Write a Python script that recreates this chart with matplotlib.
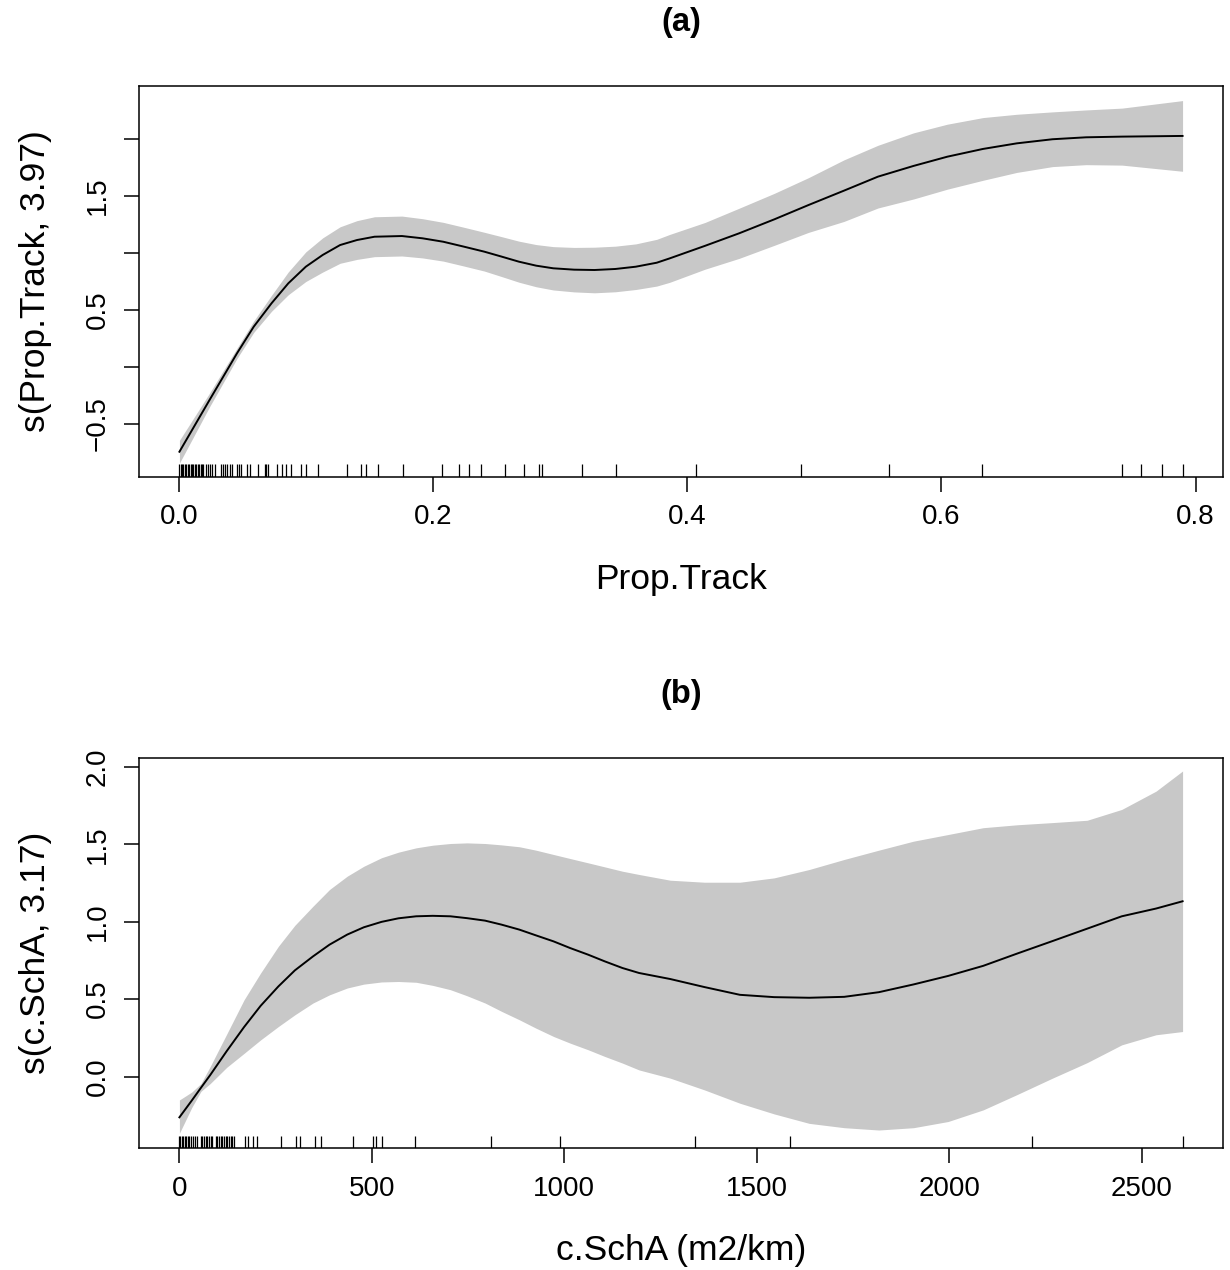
import matplotlib
matplotlib.use("Agg")
import matplotlib.pyplot as plt
import matplotlib.transforms as mtransforms
import numpy as np

plt.rcParams['font.family'] = ['Liberation Sans', 'DejaVu Sans']

# ---------------- Panel (a): s(Prop.Track, 3.97) ----------------
x_a = [0.000, 0.0237, 0.0453, 0.0585, 0.0725, 0.0857, 0.0995, 0.1128, 0.1265, 0.1398,
       0.1536, 0.1752, 0.1914, 0.2077, 0.2239, 0.2400, 0.2538, 0.2673, 0.2809, 0.2943,
       0.3107, 0.3268, 0.3432, 0.3593, 0.3758, 0.3860, 0.4138, 0.4407, 0.4685, 0.4953,
       0.5232, 0.5500, 0.5780, 0.6046, 0.6327, 0.6593, 0.6874, 0.7138, 0.7422, 0.7898]
fit_a = [-0.746, -0.292, 0.117, 0.351, 0.556, 0.731, 0.877, 0.980, 1.067, 1.111,
         1.140, 1.146, 1.126, 1.096, 1.053, 1.009, 0.965, 0.921, 0.886, 0.863,
         0.851, 0.848, 0.857, 0.877, 0.912, 0.950, 1.060, 1.170, 1.293, 1.418,
         1.544, 1.667, 1.761, 1.842, 1.910, 1.959, 1.995, 2.012, 2.018, 2.024]
hw_a = [0.10, 0.06, 0.045, 0.05, 0.07, 0.10, 0.13, 0.15, 0.16, 0.17,
        0.175, 0.175, 0.172, 0.17, 0.17, 0.17, 0.175, 0.18, 0.185, 0.19,
        0.195, 0.20, 0.20, 0.20, 0.205, 0.21, 0.205, 0.22, 0.228, 0.24,
        0.27, 0.275, 0.29, 0.285, 0.275, 0.255, 0.24, 0.24, 0.25, 0.31]
rug_a = [0.000, 0.0012, 0.002, 0.003, 0.0045, 0.0055, 0.0068, 0.0075, 0.0088, 0.0097,
         0.011, 0.0125, 0.0133, 0.0145, 0.0155, 0.0168, 0.0178, 0.0188, 0.0206, 0.0225,
         0.024, 0.0259, 0.0277, 0.0324, 0.0343, 0.0359, 0.0377, 0.0395, 0.0413, 0.045,
         0.0469, 0.0487, 0.0534, 0.0552, 0.0618, 0.0673, 0.068, 0.0697, 0.077, 0.0804,
         0.0841, 0.0875, 0.0959, 0.100, 0.109, 0.132, 0.143, 0.147, 0.156, 0.176,
         0.207, 0.220, 0.228, 0.2376, 0.2565, 0.2716, 0.283, 0.2857, 0.3167, 0.3434,
         0.407, 0.4895, 0.559, 0.632, 0.742, 0.757, 0.774, 0.7898]
xticks_a = [0.0, 0.2, 0.4, 0.6, 0.8]
xticklabels_a = ["0.0", "0.2", "0.4", "0.6", "0.8"]
yticks_a = [-0.5, 0.0, 0.5, 1.0, 1.5, 2.0]
yticklabels_a = ["\u22120.5", "", "0.5", "", "1.5", ""]
xlabel_a = "Prop.Track"
ylabel_a = "s(Prop.Track, 3.97)"
title_a = "(a)"

# ---------------- Panel (b): s(c.SchA, 3.17) ----------------
x_b = [0, 32, 56, 80, 123, 168, 211, 257, 300, 347, 390, 436, 479, 525, 569, 615,
       658, 704, 747, 794, 837, 883, 926, 972, 1015, 1062, 1105, 1151, 1194, 1275,
       1364, 1456, 1545, 1636, 1727, 1817, 1907, 1997, 2088, 2177, 2268, 2358, 2448,
       2537, 2606]
fit_b = [-0.263, -0.155, -0.072, 0.010, 0.165, 0.320, 0.457, 0.582, 0.686, 0.776,
         0.852, 0.917, 0.964, 0.999, 1.022, 1.035, 1.038, 1.035, 1.023, 1.007,
         0.981, 0.949, 0.912, 0.873, 0.830, 0.787, 0.744, 0.701, 0.669, 0.630,
         0.578, 0.528, 0.513, 0.509, 0.515, 0.545, 0.595, 0.650, 0.715, 0.795,
         0.875, 0.955, 1.035, 1.085, 1.132]
upper_b = [-0.151, -0.100, -0.045, 0.065, 0.275, 0.496, 0.669, 0.841, 0.977, 1.100,
           1.208, 1.294, 1.358, 1.413, 1.449, 1.477, 1.494, 1.505, 1.509, 1.505,
           1.496, 1.484, 1.462, 1.434, 1.408, 1.380, 1.354, 1.326, 1.305, 1.268,
           1.255, 1.255, 1.283, 1.337, 1.402, 1.462, 1.520, 1.563, 1.607, 1.626,
           1.640, 1.655, 1.725, 1.843, 1.973]
lower_b = [-0.366, -0.200, -0.095, -0.045, 0.060, 0.150, 0.237, 0.323, 0.399, 0.475,
           0.528, 0.572, 0.597, 0.611, 0.614, 0.609, 0.589, 0.561, 0.522, 0.475,
           0.421, 0.367, 0.313, 0.259, 0.216, 0.173, 0.130, 0.087, 0.043, -0.010,
           -0.086, -0.172, -0.241, -0.302, -0.330, -0.345, -0.330, -0.290, -0.215,
           -0.115, -0.010, 0.090, 0.205, 0.270, 0.291]
rug_b = [0, 2, 6, 10, 14, 18, 22, 26, 31, 35, 40, 46.6, 55.3, 59.7, 64, 68.3, 72.7, 77,
         81.3, 85.7, 94.3, 98.7, 103, 107.3, 111.7, 116, 120.4, 124.7, 129, 133.4,
         137.7, 142, 169.5, 178, 192, 202, 263, 303.7, 312, 351, 369, 452, 502.6,
         509.6, 527, 613, 810, 989, 1340, 1587, 2214, 2606]
xticks_b = [0, 500, 1000, 1500, 2000, 2500]
xticklabels_b = ["0", "500", "1000", "1500", "2000", "2500"]
yticks_b = [0.0, 0.5, 1.0, 1.5, 2.0]
yticklabels_b = ["0.0", "0.5", "1.0", "1.5", "2.0"]
xlabel_b = "c.SchA (m2/km)"
ylabel_b = "s(c.SchA, 3.17)"
title_b = "(b)"

W, H = 1230, 1270
fig = plt.figure(figsize=(W / 100, H / 100), dpi=100)

def px_axes(left, top, right, bottom):
    return fig.add_axes([left / W, 1 - bottom / H, (right - left) / W, (bottom - top) / H])

ax_a = px_axes(139.3, 86.0, 1222.7, 476.7)
ax_b = px_axes(139.3, 757.7, 1222.7, 1148.3)

BAND = "#c8c8c8"

def style(ax, xlim, ylim, xticks, xtl, yticks, ytl, xlabel, ylabel, title):
    ax.set_xlim(*xlim)
    ax.set_ylim(*ylim)
    ax.set_xticks(xticks)
    ax.set_xticklabels(xtl)
    ax.set_yticks(yticks)
    ax.set_yticklabels(ytl, rotation=90, va="center")
    ax.tick_params(axis="both", direction="out", length=11, width=1.1,
                   labelsize=20, color="black")
    ax.tick_params(axis="x", pad=9)
    ax.tick_params(axis="y", pad=9.5)
    for s in ax.spines.values():
        s.set_linewidth(1.1)
    ax.set_xlabel(xlabel, fontsize=25.5, va="center")
    ax.xaxis.set_label_coords(0.5, -0.262)
    ax.set_ylabel(ylabel, fontsize=25.5, va="center")
    ax.yaxis.set_label_coords(-0.0955, 0.5)
    ax.text(0.5, 1.163, title, transform=ax.transAxes, ha="center", va="center",
            fontsize=23.5, fontweight="bold")

def rug(ax, xs):
    trans = mtransforms.blended_transform_factory(ax.transData, ax.transAxes)
    ax.vlines(xs, 0, 0.032, transform=trans, colors="black", linewidth=0.9)

# Panel (a)
xa = np.array(x_a); fa = np.array(fit_a); ha = np.array(hw_a)
ax_a.fill_between(xa, fa - ha, fa + ha, color=BAND, linewidth=0)
ax_a.plot(xa, fa, color="black", linewidth=1.4)
rug(ax_a, rug_a)
style(ax_a, (-0.0316, 0.8214), (-0.965, 2.462), xticks_a, xticklabels_a,
      yticks_a, yticklabels_a, xlabel_a, ylabel_a, title_a)

# Panel (b)
ax_b.fill_between(x_b, lower_b, upper_b, color=BAND, linewidth=0)
ax_b.plot(x_b, fit_b, color="black", linewidth=1.4)
rug(ax_b, rug_b)
style(ax_b, (-104.2, 2710.2), (-0.463, 2.059), xticks_b, xticklabels_b,
      yticks_b, yticklabels_b, xlabel_b, ylabel_b, title_b)

fig.savefig("out.png", dpi=100, facecolor="white")
